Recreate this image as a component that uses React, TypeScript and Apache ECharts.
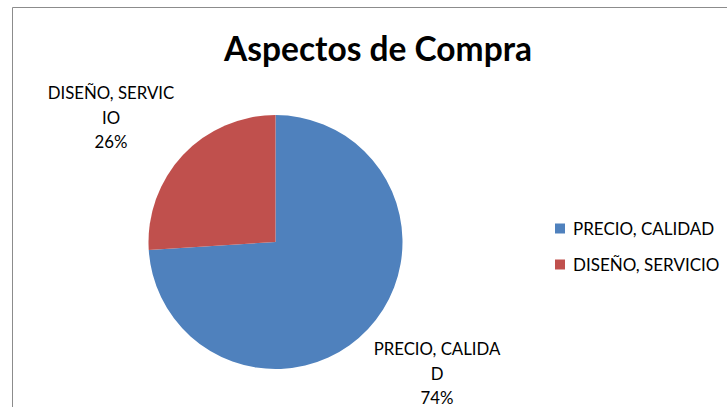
import React, { useEffect, useRef } from "react";
import * as echarts from "echarts";

const categories = ["PRECIO, CALIDAD", "DISEÑO, SERVICIO"];
const values = [74, 26];
const labelNames = ["PRECIO, CALIDA\nD", "DISEÑO, SERVIC\nIO"];
const colors = ["#4F81BD", "#C0504D"];
const labelPos = [
  [437, 373],
  [111, 117],
];

export default function App() {
  const ref = useRef<HTMLDivElement>(null);
  useEffect(() => {
    const chart = echarts.init(ref.current!, null, { renderer: "svg" });
    const font = "Lato, 'Open Sans', sans-serif";
    chart.setOption({
      animation: false,
      backgroundColor: "#ffffff",
      title: {
        text: "Aspectos de Compra",
        left: 373,
        textAlign: "center",
        top: 26,
        textStyle: { fontFamily: font, fontSize: 33.5, fontWeight: "bold", color: "#000" },
      },
      legend: {
        orient: "vertical",
        left: 550,
        top: 215,
        itemWidth: 10,
        itemHeight: 10,
        itemGap: 19,
        icon: "rect",
        data: categories,
        textStyle: { fontFamily: font, fontSize: 17, color: "#000", padding: [0, 0, 0, 3] },
      },
      graphic: [
        {
          type: "rect",
          shape: { x: 12.5, y: 7.5, width: 800, height: 500 },
          style: { fill: "none", stroke: "#8c8c8c", lineWidth: 1 },
          silent: true,
        },
      ],
      series: [
        {
          type: "pie",
          center: [275.5, 242],
          radius: 127,
          startAngle: 90,
          clockwise: true,
          color: colors,
          labelLine: { show: false },
          label: {
            show: true,
            position: "outside",
            fontFamily: font,
            fontSize: 16.8,
            lineHeight: 24.5,
            color: "#000",
            align: "center",
            formatter: (p: any) => `${labelNames[p.dataIndex]}\n${p.percent.toFixed(0)}%`,
          },
          labelLayout: (p: any) => ({
            x: labelPos[p.dataIndex][0],
            y: labelPos[p.dataIndex][1],
            align: "center",
            verticalAlign: "middle",
          }),
          data: categories.map((c, i) => ({ name: c, value: values[i] })),
        },
      ],
    });
    return () => chart.dispose();
  }, []);
  return (
    <div
      ref={ref}
      style={{ position: "fixed", left: 0, top: 0, width: 727, height: 407 }}
    />
  );
}
